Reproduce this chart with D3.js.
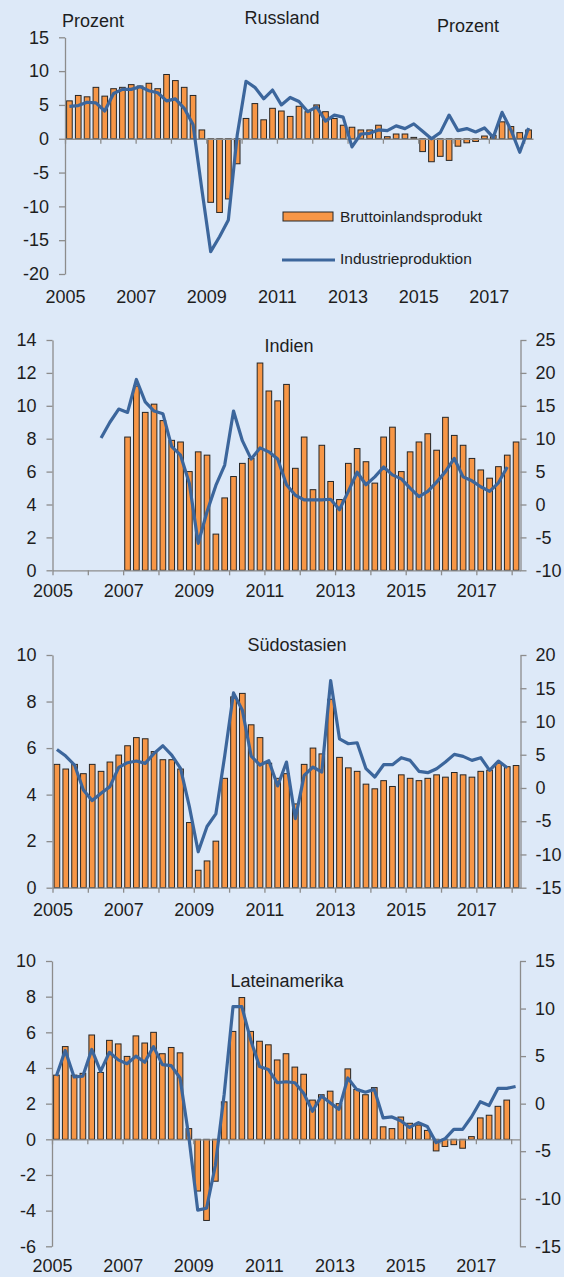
<!DOCTYPE html>
<html>
<head>
<meta charset="utf-8">
<script src="https://cdn.jsdelivr.net/npm/d3@7"></script>
<style>
  html, body { margin: 0; padding: 0; background: #dde9f8; }
  svg { display: block; font-family: "Liberation Sans", Arial, sans-serif; }
</style>
</head>
<body>
<svg id="chart" width="564" height="1277"></svg>
<script>
// quarterly axis 2005Q1 .. 2018Q1
const tickYears  = [2005, 2006, 2007, 2008, 2009, 2010, 2011, 2012, 2013, 2014, 2015, 2016, 2017, 2018];
const labelYears = [2005, 2007, 2009, 2011, 2013, 2015, 2017];
const quarters = tickYears.flatMap(y => ['Q1', 'Q2', 'Q3', 'Q4'].map(q => y + q)).slice(0, 53);

// Russland (both series on the left axis)
const ruGdp = [5.6, 6.4, 6.2, 7.6, 6.3, 7.4, 7.6, 8.0, 7.8, 8.2, 7.4, 9.5, 8.6, 7.6, 6.4, 1.3,
  -9.4, -10.9, -8.9, -3.7, 3.0, 5.2, 2.8, 4.5, 4.1, 3.3, 4.8, 4.0, 5.0, 4.0, 3.0, 2.0,
  1.7, 1.3, 1.3, 2.0, 0.3, 0.7, 0.7, 0.2, -1.9, -3.4, -2.6, -3.2, -1.1, -0.6, -0.4, 0.4,
  0.5, 2.5, 1.8, 0.9, 1.3];
const ruIp = [4.8, 4.9, 5.4, 5.3, 4.1, 6.7, 7.3, 7.3, 7.7, 7.1, 6.8, 5.6, 5.9, 4.5, 2.1, -7.5,
  -16.7, -14.5, -12.0, 0.5, 8.5, 7.6, 5.9, 7.2, 5.0, 6.1, 5.5, 4.0, 4.7, 2.6, 3.5, 3.2,
  -1.2, 0.7, 0.8, 1.3, 1.2, 1.9, 1.5, 2.2, 1.1, 0.0, 0.9, 3.5, 1.2, 1.5, 1.0, 1.6,
  0.2, 3.9, 1.3, -2.0, 1.6];

// Indien (GDP left, industry right)
const inGdp = [null, null, null, null, null, null, null, null,
  8.1, 11.2, 9.6, 10.1, 9.1, 7.9, 7.8, 6.0, 7.2, 7.0, 2.2, 4.4, 5.7, 6.5, 6.8, 12.6,
  10.9, 10.3, 11.3, 6.2, 8.1, 4.9, 7.6, 5.4, 4.3, 6.5, 7.4, 6.6, 5.3, 8.1, 8.7, 6.0,
  7.2, 7.8, 8.3, 7.3, 9.3, 8.2, 7.6, 6.8, 6.1, 5.6, 6.3, 7.0, 7.8];
const inIp = [null, null, null, null, null, 10.1, 12.5, 14.5,
  14.0, 19.0, 15.6, 14.2, 13.8, 8.8, 7.5, 3.2, -5.9, -1.1, 2.9, 6.0, 14.2, 9.7, 6.9, 8.6,
  8.0, 6.9, 3.0, 1.4, 0.7, 0.7, 0.7, 0.8, -0.8, 2.0, 4.9, 3.0, 4.2, 5.7, 4.5, 3.9,
  2.5, 1.2, 2.0, 3.4, 5.0, 7.0, 4.2, 3.6, 2.7, 2.0, 3.3, 5.7, null];

// Südostasien
const seGdp = [5.3, 5.1, 5.3, 4.9, 5.3, 5.0, 5.4, 5.7, 6.1, 6.45, 6.4, 5.85, 5.5, 5.5, 5.1, 2.8,
  0.75, 1.15, 2.0, 4.7, 8.2, 8.35, 7.0, 6.45, 5.35, 4.7, 4.9, 3.6, 5.3, 6.0, 5.75, 8.1,
  5.6, 5.15, 5.0, 4.45, 4.25, 4.6, 4.35, 4.85, 4.7, 4.6, 4.7, 4.85, 4.75, 4.95, 4.85, 4.75,
  5.0, 5.05, 5.35, 5.2, 5.25];
const seIp = [5.8, 4.8, 3.45, -0.3, -1.9, -0.8, 0.2, 3.1, 3.8, 4.05, 3.7, 5.2, 6.35, 4.95, 2.95, -2.8,
  -9.6, -5.8, -3.9, 4.8, 14.3, 11.7, 4.8, 3.45, 4.1, 0.3, 3.9, -4.6, 1.9, 3.15, 2.4, 16.15,
  7.4, 6.65, 6.8, 2.9, 1.65, 3.5, 3.5, 4.55, 4.15, 2.5, 2.3, 2.9, 3.9, 5.05, 4.75, 4.15,
  4.55, 2.65, 4.05, 3.05, null];

// Lateinamerika
const laGdp = [3.6, 5.2, 3.6, 3.7, 5.85, 3.75, 5.55, 5.35, 4.65, 5.8, 5.4, 6.0, 4.8, 5.15, 4.85, 0.6,
  -2.9, -4.55, -2.35, 2.1, 6.05, 7.95, 6.05, 5.5, 5.3, 4.45, 4.8, 4.05, 3.65, 2.2, 2.5, 2.7,
  2.0, 3.95, 2.8, 2.5, 2.9, 0.7, 0.6, 1.25, 0.9, 0.8, 0.5, -0.65, -0.4, -0.3, -0.5, 0.15,
  1.2, 1.35, 1.85, 2.2, null];
const laIp = [2.9, 5.6, 2.8, 2.9, 5.7, 3.4, 5.4, 4.6, 4.2, 5.0, 4.35, 6.0, 4.1, 4.0, 2.7, -3.5,
  -11.2, -11.0, -6.5, 1.0, 10.2, 10.2, 6.7, 3.9, 3.6, 2.2, 2.3, 2.2, 1.1, -0.8, 0.8, 0.1,
  -0.6, 2.7, 1.5, 1.2, 1.5, -1.5, -1.4, -1.8, -2.5, -2.0, -2.4, -4.1, -3.7, -2.7, -2.7, -1.4,
  0.2, -0.2, 1.6, 1.6, 1.8];

const BAR = '#f79646', LINE = '#3c669c', AXIS = '#8c8c8c', TXT = '#1e1e1e';
const FS = '18px';
const svg = d3.select('#chart');

function panel(p) {
  const g = svg.append('g');
  const x = d3.scaleBand().domain(quarters).range([p.x0, p.x1]).paddingInner(0.36).paddingOuter(0.18);
  const xYear = d3.scaleLinear().domain([2005, 2018.25]).range([p.x0, p.x1]);
  const yL = d3.scaleLinear().domain(p.left).range([p.yBot, p.yTop]);
  const yR = p.right ? d3.scaleLinear().domain(p.right).range([p.yBot, p.yTop]) : yL;
  const bw = x.bandwidth();

  // bars
  g.append('g').selectAll('rect')
    .data(quarters.map((q, i) => ({ q, v: p.gdp[i] })).filter(d => d.v != null))
    .join('rect')
    .attr('x', d => x(d.q)).attr('width', bw)
    .attr('y', d => Math.min(yL(d.v), yL(0)))
    .attr('height', d => Math.abs(yL(d.v) - yL(0)))
    .attr('fill', BAR).attr('stroke', '#262626').attr('stroke-width', 1);

  // year ticks on the zero line
  const xa = g.append('g').attr('transform', `translate(0,${yL(0)})`)
    .call(d3.axisBottom(xYear).tickValues(tickYears).tickSize(5).tickSizeOuter(0).tickFormat(''));
  // year labels
  const xl = g.append('g').attr('transform', `translate(0,${p.labelY})`)
    .call(d3.axisBottom(xYear).tickValues(labelYears).tickSize(0).tickPadding(0).tickFormat(d3.format('d')));
  xl.select('.domain').remove();

  const ya = g.append('g').attr('transform', `translate(${p.x0},0)`)
    .call(d3.axisLeft(yL).tickValues(d3.range(p.left[0], p.left[1] + 0.1, p.leftStep))
      .tickSize(6).tickSizeOuter(0).tickPadding(10).tickFormat(d => String(d)));
  const axes = [xa, xl, ya];
  if (p.right) {
    axes.push(g.append('g').attr('transform', `translate(${p.x1},0)`)
      .call(d3.axisRight(yR).tickValues(d3.range(p.right[0], p.right[1] + 0.1, 5))
        .tickSize(6).tickSizeOuter(0).tickPadding(9).tickFormat(d => String(d))));
  }
  axes.forEach(a => {
    a.selectAll('.domain, line').attr('stroke', AXIS).attr('stroke-width', 1.3);
    a.selectAll('text').attr('fill', TXT).attr('font-size', FS)
      .attr('font-family', '"Liberation Sans", Arial, sans-serif');
  });
  xl.selectAll('text').attr('dy', '0.35em');

  // line
  const pts = quarters.map((q, i) => ({ q, v: p.ip[i] }));
  g.append('path').datum(pts)
    .attr('fill', 'none').attr('stroke', LINE).attr('stroke-width', 3.2)
    .attr('stroke-linejoin', 'round')
    .attr('d', d3.line().defined(d => d.v != null)
      .x(d => x(d.q) + bw / 2).y(d => yR(d.v)));

  g.append('text').attr('x', p.titleX).attr('y', p.titleY)
    .attr('text-anchor', 'middle').attr('font-size', FS).attr('fill', TXT).text(p.title);
  return g;
}

const ru = panel({ title: 'Russland', titleX: 282, titleY: 24, x0: 65, x1: 533, yTop: 37.3, yBot: 274,
  left: [-20, 15], leftStep: 5, gdp: ruGdp, ip: ruIp, labelY: 297 });
panel({ title: 'Indien', titleX: 289, titleY: 352, x0: 52.5, x1: 520.5, yTop: 340, yBot: 570.3,
  left: [0, 14], leftStep: 2, right: [-10, 25], gdp: inGdp, ip: inIp, labelY: 591 });
panel({ title: 'Südostasien', titleX: 297, titleY: 651, x0: 52.5, x1: 520.5, yTop: 655, yBot: 887.7,
  left: [0, 10], leftStep: 2, right: [-15, 20], gdp: seGdp, ip: seIp, labelY: 910 });
panel({ title: 'Lateinamerika', titleX: 287, titleY: 987, x0: 52, x1: 520, yTop: 961, yBot: 1246.3,
  left: [-6, 10], leftStep: 2, right: [-15, 15], gdp: laGdp, ip: laIp, labelY: 1266 });

// Russland: unit labels and legend
ru.append('text').attr('x', 62).attr('y', 27).attr('font-size', FS).attr('fill', TXT).text('Prozent');
ru.append('text').attr('x', 437).attr('y', 32).attr('font-size', FS).attr('fill', TXT).text('Prozent');
const leg = ru.append('g').attr('font-size', '15.5px').attr('fill', TXT);
leg.append('rect').attr('x', 283).attr('y', 212).attr('width', 50).attr('height', 9)
  .attr('fill', BAR).attr('stroke', '#262626');
leg.append('text').attr('x', 340).attr('y', 216.5).attr('dy', '0.35em').text('Bruttoinlandsprodukt');
leg.append('line').attr('x1', 282).attr('x2', 335).attr('y1', 260).attr('y2', 260)
  .attr('stroke', LINE).attr('stroke-width', 3.2);
leg.append('text').attr('x', 340).attr('y', 259).attr('dy', '0.35em').text('Industrieproduktion');
</script>
</body>
</html>
